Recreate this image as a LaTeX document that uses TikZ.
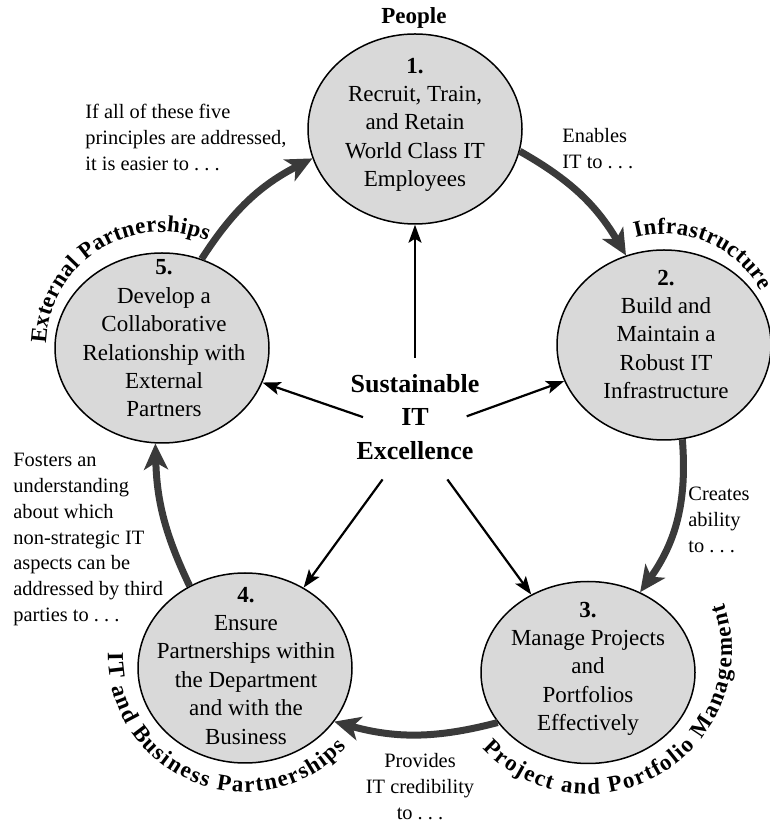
\documentclass[tikz,border=0pt]{standalone}
\usepackage{fontspec}
\setmainfont{Liberation Serif}
\usetikzlibrary{shapes.geometric,arrows.meta,calc,decorations.text}
\definecolor{circfill}{HTML}{D9D9D9}
\definecolor{arcgray}{HTML}{3A3A3A}

\begin{document}
\begin{tikzpicture}[x=0.5pt, y=0.5pt,
		circ_style/.style={ellipse,draw=black,line width=0.75pt,fill=circfill,minimum width=107pt,minimum height=95pt,inner sep=0pt},
		text_style/.style={anchor=north,align=center,inner sep=0pt,font=\fontsize{11.5}{14.2}\selectfont},
		note_style/.style={anchor=north west,align=left,inner sep=0pt,font=\fontsize{10.2}{12.9}\selectfont},
		ctr_style/.style={anchor=north,align=center,inner sep=0pt,font=\fontsize{13}{16.75}\selectfont\bfseries},
		thin_edge/.style={draw=black,line width=1.1pt,-{Stealth[length=9pt,width=6.5pt,inset=2pt]},shorten <=27.5pt},
		thick_edge/.style={draw=arcgray,line width=3.5pt,-{Stealth[length=13pt,width=12pt,inset=3.5pt]}},
		label_style/.style={decorate,decoration={text along path,text align={fit to path},text={|\fontsize{11.5}{14}\selectfont\bfseries|#1}}}]

		\useasboundingbox (0,0) rectangle (770,824);

		\node[circ_style] (p1) at (415,695) {};
		\node[circ_style] (p2) at (664,479) {};
		\node[circ_style,minimum height=91pt] (p3) at (588,151.5) {};
		\node[circ_style] (p4) at (245,156) {};
		\node[circ_style] (p5) at (162,476) {};
		\coordinate (hub) at (415,389);
		\coordinate (c3) at (588,174);
		\coordinate (c4) at (245,169);

		\node[text_style] (t1) at (415,766.5) {\textbf{1.}\\Recruit, Train,\\and Retain\\World Class IT\\Employees};
		\node[text_style] (t2) at (666,554.5) {\textbf{2.}\\Build and\\Maintain a\\Robust IT\\Infrastructure};
		\node[text_style] (t3) at (588,222.5) {\textbf{3.}\\Manage Projects\\and\\Portfolios\\Effectively};
		\node[text_style] (t4) at (246,237.5) {\textbf{4.}\\Ensure\\Partnerships within\\the Department\\and with the\\Business};
		\node[text_style] (t5) at (164,564.5) {\textbf{5.}\\Develop a\\Collaborative\\Relationship with\\External\\Partners};
		\node[ctr_style] (ctr) at (415,450) {Sustainable\\IT\\Excellence};

		\node[anchor=north,inner sep=0pt,font=\fontsize{11.5}{14}\selectfont\bfseries] (lbl1) at (414,817) {People};
		\path[label_style={Infrastructure}] ($(p2.center)+(105:55.5pt)$) arc[start angle=105,end angle=29,radius=55.5pt];
		\path[label_style={Project and Portfolio Management}] ($(c3)+(223:72pt)$) arc[start angle=223,end angle=379,radius=72pt];
		\path[label_style={IT and Business Partnerships}] ($(c4)+(179:68.5pt)$) arc[start angle=179,end angle=318,radius=68.5pt];
		\path[label_style={External Partnerships}] ($(p5.center)+(178:58pt)$) arc[start angle=178,end angle=67,radius=58pt];

		\node[note_style] (n5) at (85,720) {If all of these five\\principles are addressed,\\it is easier to .~.~.};
		\node[note_style] (n1) at (562,696) {Enables\\IT to .~.~.};
		\node[note_style] (n2) at (688,337) {Creates\\ability\\to .~.~.};
		\node[note_style,anchor=north,align=center] (n3) at (420,71) {Provides\\IT credibility\\to .~.~.};
		\node[note_style] (n4) at (13,371) {Fosters an\\understanding\\about which\\non-strategic IT\\aspects can be\\addressed by third\\parties to .~.~.};

		\draw[thick_edge] (p5.66) to[bend left=15] (p1.196);
		\draw[thick_edge] (p1.348) to[bend left=15] (p2.113);
		\draw[thick_edge] (p2.281) to[bend left=20] (p3.57);
		\draw[thick_edge] (p3.209) to[bend left=15] (p4.329);
		\draw[thick_edge] (p4.124) to[bend left=12] (p5.266);

		\draw[thin_edge,shorten <=38.5pt] (hub) -- (p1);
		\draw[thin_edge] (hub) -- (p2);
		\draw[thin_edge] (hub) -- (p3);
		\draw[thin_edge] (hub) -- (p4);
		\draw[thin_edge] (hub) -- (p5);

\end{tikzpicture}
\end{document}
